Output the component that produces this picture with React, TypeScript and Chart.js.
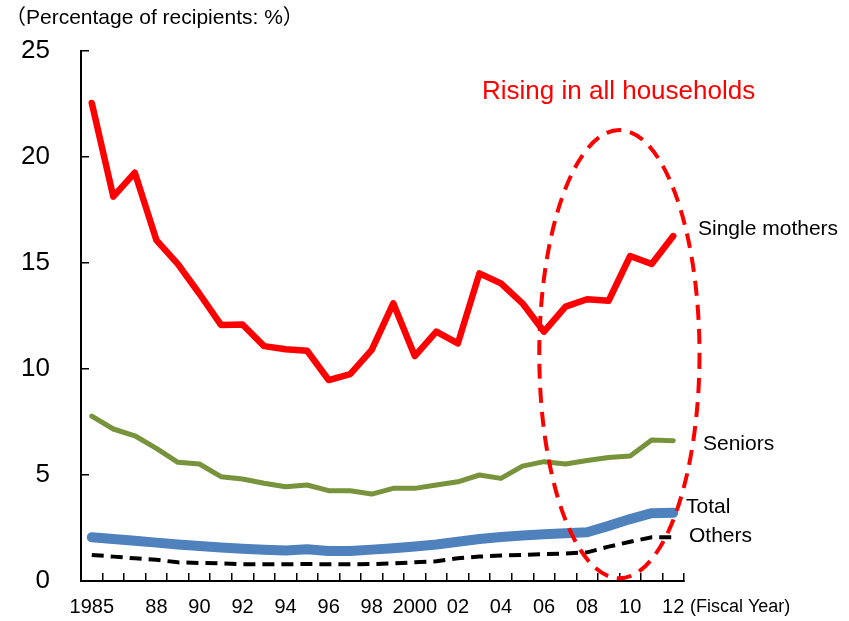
import React, { useEffect, useRef } from 'react';
import { Chart, registerables } from 'chart.js';

Chart.register(...registerables);

const years = [
  '1985', '1986', '1987', '1988', '1989', '1990', '1991', '1992', '1993', '1994',
  '1995', '1996', '1997', '1998', '1999', '2000', '2001', '2002', '2003', '2004',
  '2005', '2006', '2007', '2008', '2009', '2010', '2011', '2012',
];

const xTickLabels = [
  '1985', '', '', '88', '', '90', '', '92', '', '94',
  '', '96', '', '98', '', '2000', '', '02', '', '04',
  '', '06', '', '08', '', '10', '', '12',
];

const singleMothers = [
  22.55, 18.13, 19.26, 16.08, 14.95, 13.55, 12.08, 12.1, 11.08, 10.93,
  10.86, 9.48, 9.76, 10.9, 13.1, 10.61, 11.76, 11.21, 14.51, 14.04,
  13.1, 11.76, 12.94, 13.29, 13.22, 15.33, 14.95, 16.27,
];

const seniors = [
  7.78, 7.17, 6.85, 6.26, 5.6, 5.52, 4.92, 4.81, 4.61, 4.45,
  4.53, 4.26, 4.26, 4.1, 4.37, 4.37, 4.53, 4.68, 5.0, 4.84,
  5.42, 5.63, 5.52, 5.68, 5.83, 5.9, 6.65, 6.62,
];

const total = [
  2.06, 1.98, 1.9, 1.81, 1.72, 1.65, 1.58, 1.52, 1.47, 1.44,
  1.5, 1.42, 1.42, 1.48, 1.55, 1.63, 1.72, 1.85, 1.98, 2.08,
  2.15, 2.2, 2.25, 2.3, 2.6, 2.92, 3.2, 3.22,
];

const others = [
  1.23, 1.15, 1.07, 1.0, 0.88, 0.85, 0.83, 0.79, 0.79, 0.79,
  0.8, 0.79, 0.79, 0.8, 0.83, 0.88, 0.93, 1.07, 1.15, 1.2,
  1.23, 1.27, 1.3, 1.35, 1.62, 1.85, 2.06, 2.06,
];

const FONT = '"Liberation Sans", Arial, "Noto Sans CJK JP", sans-serif';

// highlight ellipse in data units (category index / value)
const ellipseSpec = { centerIndex: 24.5, centerValue: 10.7, radiusIndex: 3.72, radiusValue: 10.57 };

const annotationPlugin = {
  id: 'annotations',
  afterDatasetsDraw(chart: any) {
    const { ctx, scales } = chart;
    const x = scales.x;
    const y = scales.y;
    const cx = x.getPixelForValue(ellipseSpec.centerIndex);
    const rx = x.getPixelForValue(ellipseSpec.centerIndex + ellipseSpec.radiusIndex) - cx;
    const cy = y.getPixelForValue(ellipseSpec.centerValue);
    const ry = cy - y.getPixelForValue(ellipseSpec.centerValue + ellipseSpec.radiusValue);
    ctx.save();
    ctx.strokeStyle = '#FF0000';
    ctx.lineWidth = 4;
    ctx.setLineDash([15, 9]);
    ctx.beginPath();
    ctx.ellipse(cx, cy, rx, ry, 0, 0, Math.PI * 2);
    ctx.stroke();
    ctx.restore();
  },
  afterDraw(chart: any) {
    const { ctx } = chart;
    ctx.save();
    ctx.textBaseline = 'middle';
    ctx.textAlign = 'left';
    ctx.fillStyle = '#000';
    ctx.font = `21px ${FONT}`;
    ctx.fillText('（Percentage of recipients: %）', 5, 18);
    ctx.fillText('Single mothers', 698, 229);
    ctx.fillText('Seniors', 703, 444);
    ctx.fillText('Total', 686, 507);
    ctx.fillText('Others', 689, 536);
    ctx.font = `18px ${FONT}`;
    ctx.fillText('(Fiscal Year)', 690, 607);
    ctx.fillStyle = '#FF0000';
    ctx.font = `26px ${FONT}`;
    ctx.fillText('Rising in all households', 482, 92);
    ctx.restore();
  },
};

export default function App() {
  const canvasRef = useRef<HTMLCanvasElement | null>(null);

  useEffect(() => {
    document.body.style.margin = '0';
    const canvas = canvasRef.current;
    if (!canvas) return;
    const chart = new Chart(canvas, {
      type: 'line',
      data: {
        labels: years,
        datasets: [
          {
            label: 'Others',
            data: others,
            borderColor: '#000000',
            borderWidth: 4,
            borderDash: [12, 7],
            pointRadius: 0,
            tension: 0,
            fill: false,
          },
          {
            label: 'Total',
            data: total,
            borderColor: '#4F81BD',
            borderWidth: 10,
            borderCapStyle: 'round',
            borderJoinStyle: 'round',
            pointRadius: 0,
            tension: 0,
            fill: false,
          },
          {
            label: 'Seniors',
            data: seniors,
            borderColor: '#77933C',
            borderWidth: 5,
            borderCapStyle: 'round',
            borderJoinStyle: 'round',
            pointRadius: 0,
            tension: 0,
            fill: false,
          },
          {
            label: 'Single mothers',
            data: singleMothers,
            borderColor: '#FF0000',
            borderWidth: 6.5,
            borderCapStyle: 'round',
            borderJoinStyle: 'round',
            pointRadius: 0,
            tension: 0,
            fill: false,
          },
        ],
      },
      options: {
        responsive: false,
        animation: false,
        layout: { padding: { left: 0, top: 51, right: 165, bottom: 0 } },
        plugins: {
          legend: { display: false },
          tooltip: { enabled: false },
          title: { display: false },
        },
        scales: {
          x: {
            type: 'category',
            offset: true,
            grid: {
              display: true,
              drawOnChartArea: false,
              offset: true,
              tickLength: -8,
              color: '#000',
              lineWidth: 1.5,
            },
            border: { display: true, color: '#000', width: 2 },
            ticks: {
              autoSkip: false,
              maxRotation: 0,
              minRotation: 0,
              padding: 22,
              color: '#000',
              font: { family: FONT, size: 20 },
              callback: (_v: any, i: number) => xTickLabels[i],
            },
            afterFit: (scale: any) => {
              scale.height = 40;
              scale.paddingLeft = 0;
              scale.paddingRight = 0;
            },
          },
          y: {
            min: 0,
            max: 25,
            grid: {
              display: true,
              drawOnChartArea: false,
              tickLength: -8,
              color: '#000',
              lineWidth: 1.5,
            },
            border: { display: true, color: '#000', width: 2 },
            ticks: {
              stepSize: 5,
              padding: 39,
              color: '#000',
              font: { family: FONT, size: 26 },
            },
            afterFit: (scale: any) => {
              scale.width = 81;
              scale.paddingTop = 0;
              scale.paddingBottom = 0;
            },
          },
        },
      },
      plugins: [annotationPlugin],
    });
    return () => chart.destroy();
  }, []);

  return (
    <div style={{ width: 849, height: 621 }}>
      <canvas ref={canvasRef} width={849} height={621} style={{ display: 'block' }} />
    </div>
  );
}
